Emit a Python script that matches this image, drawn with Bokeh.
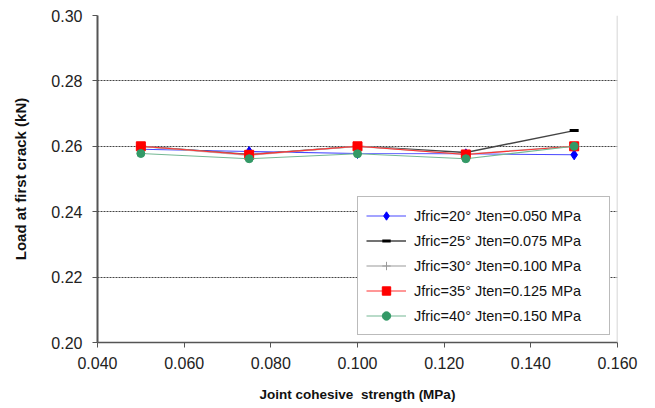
from bokeh.plotting import figure
from bokeh.models import Range1d, PrintfTickFormatter, FixedTicker, Legend, LegendItem, Span
from bokeh.embed import file_html
from bokeh.resources import INLINE

# data
x_vals = [0.050, 0.075, 0.100, 0.125, 0.150]
labels = ["Jfric=20° Jten=0.050 MPa", "Jfric=25° Jten=0.075 MPa", "Jfric=30° Jten=0.100 MPa",
          "Jfric=35° Jten=0.125 MPa", "Jfric=40° Jten=0.150 MPa"]
s20 = [0.2591, 0.2584, 0.2578, 0.2577, 0.2574]
s25 = [0.2600, 0.2575, 0.2600, 0.2581, 0.2648]
s30 = [0.2600, 0.2573, 0.2600, 0.2576, 0.2600]
s35 = [0.2600, 0.2574, 0.2600, 0.2575, 0.2600]
s40 = [0.2578, 0.2562, 0.2577, 0.2562, 0.2600]
x_ticks = [0.04, 0.06, 0.08, 0.10, 0.12, 0.14, 0.16]
y_ticks = [0.20, 0.22, 0.24, 0.26, 0.28, 0.30]

FONT = "Liberation Sans"

p = figure(width=655, height=408, output_backend="svg", toolbar_location=None,
           x_range=Range1d(0.04, 0.16), y_range=Range1d(0.20, 0.30),
           min_border_left=97, min_border_right=38, min_border_top=15, min_border_bottom=66)
p.outline_line_color = None
p.background_fill_color = "white"

p.xgrid.grid_line_color = None
p.ygrid.grid_line_color = "#444444"
p.ygrid.grid_line_dash = "2 1"
p.ygrid.grid_line_width = 1

for ax in (p.xaxis[0], p.yaxis[0]):
    ax.major_label_text_font = FONT
    ax.major_label_text_font_size = "16px"
    ax.major_label_text_color = "#222222"
    ax.axis_label_text_font = FONT
    ax.axis_label_text_font_style = "bold"
    ax.axis_label_text_color = "#111111"
    ax.minor_tick_line_color = None
    ax.major_tick_in = 0
    ax.major_tick_out = 5
    ax.axis_line_color = "#555555"
    ax.major_tick_line_color = "#555555"

p.xaxis.axis_label_text_font_size = "13.5px"
p.yaxis.axis_label_text_font_size = "15px"
p.xaxis.ticker = FixedTicker(ticks=x_ticks)
p.yaxis.ticker = FixedTicker(ticks=y_ticks)
p.xaxis.formatter = PrintfTickFormatter(format="%.3f")
p.yaxis.formatter = PrintfTickFormatter(format="%.2f")
p.xaxis.axis_label = "Joint cohesive\u00a0 strength (MPa)"
p.yaxis.axis_label = "Load at first crack (kN)"
p.yaxis.axis_line_width = 2
p.xaxis.axis_line_width = 1.5
p.xaxis.axis_label_standoff = 15
p.yaxis.axis_label_standoff = 19
p.xaxis.major_label_standoff = 9
p.yaxis.major_label_standoff = 10

p.add_layout(Span(location=0.16, dimension="height", line_color="#C8C8C8", line_width=1.5))

items = []
r = p.line(x_vals, s20, line_color="#4848FF", line_width=1.1)
m = p.scatter(x_vals, s20, marker="diamond", size=10, fill_color="#0000FF", line_color="#0000FF")
items.append(LegendItem(label=labels[0], renderers=[r, m]))

r = p.line(x_vals, s25, line_color="#444444", line_width=1.4)
m = p.scatter(x_vals, s25, marker="dash", size=9, line_color="#000000", line_width=3)
items.append(LegendItem(label=labels[1], renderers=[r, m]))

r = p.line(x_vals, s30, line_color="#BBBBBB", line_width=1.5)
m = p.scatter(x_vals, s30, marker="cross", size=4, line_color="#999999", line_width=1)
items.append(LegendItem(label=labels[2], renderers=[r, m]))

r = p.line(x_vals, s35, line_color="#FF3030", line_width=1.1)
m = p.scatter(x_vals, s35, marker="square", size=9, fill_color="#FF0000", line_color="#FF0000")
items.append(LegendItem(label=labels[3], renderers=[r, m]))

r = p.line(x_vals, s40, line_color="#74B894", line_width=1.1)
m = p.scatter(x_vals, s40, marker="circle", size=8, fill_color="#339966", line_color="#339966")
items.append(LegendItem(label=labels[4], renderers=[r, m]))

legend = Legend(items=items, location=(260, 7))
legend.label_text_font = FONT
legend.label_text_font_size = "14.5px"
legend.label_text_color = "#111111"
legend.border_line_color = "#777777"
legend.border_line_width = 1
legend.background_fill_alpha = 1
legend.glyph_width = 40
legend.glyph_height = 21
legend.label_height = 21
legend.label_width = 187
legend.spacing = 4
legend.padding = 8
legend.margin = 0
legend.label_standoff = 8
p.add_layout(legend)

open("out.html", "w").write(file_html(p, INLINE))
